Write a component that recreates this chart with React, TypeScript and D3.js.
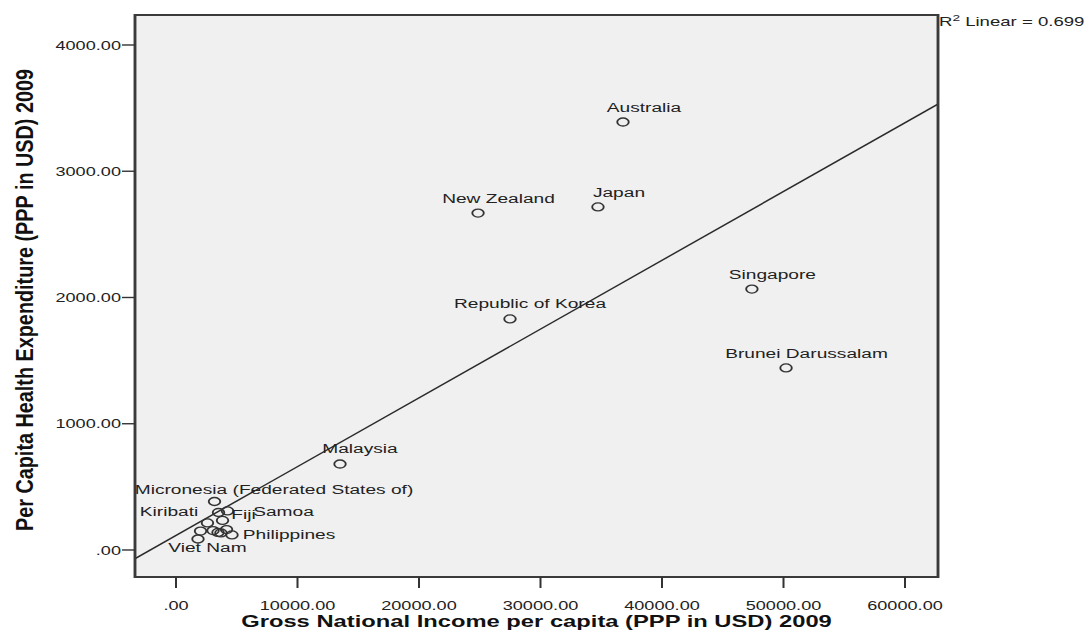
import React from "react";
import * as d3 from "d3";

// ---- data ----
const countries = [
  "Australia", "Japan", "New Zealand", "Singapore", "Republic of Korea",
  "Brunei Darussalam", "Malaysia", "Micronesia (Federated States of)", "Kiribati",
  "Samoa", "Solomon Islands", "Fiji", "Lao PDR", "Mongolia", "Vanuatu", "Tonga",
  "Philippines", "Viet Nam", "Indonesia",
];
const gniPerCapita = [
  36790, 34730, 24860, 47400, 27490, 50210, 13500, 3170, 3500, 4240, 2590,
  3830, 2020, 3050, 3460, 4160, 4610, 1810, 3700,
];
const healthExpPerCapita = [
  3390, 2717, 2669, 2067, 1830, 1442, 681, 384, 297, 309, 214, 234, 150, 154,
  139, 162, 119, 87, 135,
];
const xTicks = [0, 10000, 20000, 30000, 40000, 50000, 60000];
const yTicks = [0, 1000, 2000, 3000, 4000];
const xTitle = "Gross National Income per capita (PPP in USD) 2009";
const yTitle = "Per Capita Health Expenditure (PPP in USD) 2009";
const r2Text = " Linear = 0.699";

// label placement offsets (px, relative to each point); only labelled points
const labelOffsets: Record<string, [number, number]> = {
  "Australia": [21, -10],
  "Japan": [21, -10],
  "New Zealand": [20.5, -10.5],
  "Singapore": [20.5, -10.5],
  "Republic of Korea": [20, -11],
  "Brunei Darussalam": [20.5, -9.5],
  "Malaysia": [20, -11],
  "Micronesia (Federated States of)": [59.5, -7.5],
  "Kiribati": [-49.5, 3.5],
  "Samoa": [56, 4.7],
  "Fiji": [21, -1.2],
  "Philippines": [57, 4.3],
  "Viet Nam": [9.5, 12.7],
};

// ---- layout (the reference is horizontally stretched) ----
const W = 1088;
const H = 635;
const K = 1.44; // horizontal stretch
const VW = W / K;
const frame = { left: 135, right: 938, top: 15, bottom: 577 };
const FONT = "'Liberation Sans', Arial, sans-serif";
const INK = "#222";

export default function App() {
  const x = d3.scaleLinear().domain([-3374, 62716]).range([frame.left / K, frame.right / K]);
  const y = d3.scaleLinear().domain([-214, 4237.6]).range([frame.bottom, frame.top]);

  // least squares fit
  const mx = d3.mean(gniPerCapita) as number;
  const my = d3.mean(healthExpPerCapita) as number;
  let sxy = 0, sxx = 0;
  gniPerCapita.forEach((g, i) => {
    sxy += (g - mx) * (healthExpPerCapita[i] - my);
    sxx += (g - mx) * (g - mx);
  });
  const slope = sxy / sxx;
  const intercept = my - slope * mx;
  const [x0, x1] = x.domain();
  const line = d3.line<number>().x((d) => x(d)).y((d) => y(intercept + slope * d));

  const fmt = (v: number) => (v === 0 ? ".00" : d3.format(".2f")(v));

  return (
    <svg
      width={W}
      height={H}
      viewBox={`0 0 ${VW} ${H}`}
      preserveAspectRatio="none"
      style={{ position: "absolute", left: 0, top: 0, background: "#fff" }}
    >
      <defs>
        <clipPath id="plotclip">
          <rect x={frame.left / K} y={frame.top} width={(frame.right - frame.left) / K} height={frame.bottom - frame.top} />
        </clipPath>
      </defs>
      <rect
        x={frame.left / K}
        y={frame.top}
        width={(frame.right - frame.left) / K}
        height={frame.bottom - frame.top}
        fill="#f0f0f0"
      />
      {/* regression line */}
      <path d={line([x0, x1]) || ""} fill="none" stroke="#2a2a2a" strokeWidth={1.3} clipPath="url(#plotclip)" />

      {/* points */}
      {gniPerCapita.map((g, i) => (
        <circle key={i} cx={x(g)} cy={y(healthExpPerCapita[i])} r={4} fill="none" stroke="#333" strokeWidth={1.3} />
      ))}

      {/* labels */}
      {countries.map((c, i) => {
        const off = labelOffsets[c];
        if (!off) return null;
        return (
          <text
            key={c}
            x={x(gniPerCapita[i]) + off[0] / K}
            y={y(healthExpPerCapita[i]) + off[1]}
            textAnchor="middle"
            fontFamily={FONT}
            fontSize={13.3}
            fill={INK}
          >
            {c}
          </text>
        );
      })}

      {/* frame */}
      <rect
        x={frame.left / K}
        y={frame.top}
        width={(frame.right - frame.left) / K}
        height={frame.bottom - frame.top}
        fill="none"
        stroke="#3a3a3a"
        strokeWidth={2}
      />

      {/* y axis ticks */}
      {yTicks.map((t) => (
        <g key={"y" + t}>
          <line x1={122 / K} x2={frame.left / K} y1={y(t)} y2={y(t)} stroke="#333" strokeWidth={1.4} />
          <text x={121 / K} y={y(t)} dy="0.36em" textAnchor="end" fontFamily={FONT} fontSize={12.6} fill={INK}>
            {fmt(t)}
          </text>
        </g>
      ))}

      {/* x axis ticks */}
      {xTicks.map((t) => (
        <g key={"x" + t}>
          <line x1={x(t)} x2={x(t)} y1={frame.bottom} y2={frame.bottom + 11} stroke="#333" strokeWidth={1.4} />
          <text x={x(t)} y={610.5} textAnchor="middle" fontFamily={FONT} fontSize={12.6} fill={INK}>
            {fmt(t)}
          </text>
        </g>
      ))}

      {/* axis titles */}
      <text
        x={(frame.left + frame.right) / 2 / K}
        y={627}
        textAnchor="middle"
        fontFamily={FONT}
        fontWeight="bold"
        fontSize={16.5}
        fill="#111"
      >
        {xTitle}
      </text>
      <text
        transform={`translate(${27 / K},${(frame.top + frame.bottom) / 2 + 4}) rotate(-90)`}
        textAnchor="middle"
        dominantBaseline="middle"
        fontFamily={FONT}
        fontWeight="bold"
        fontSize={17}
        textLength={462}
        lengthAdjust="spacingAndGlyphs"
        fill="#111"
      >
        {yTitle}
      </text>

      {/* R² annotation */}
      <text x={939 / K} y={26} fontFamily={FONT} fontSize={12.9} fill={INK}>
        R<tspan fontSize={9.5} dy={-5}>2</tspan>
        <tspan dy={5}>{r2Text}</tspan>
      </text>
    </svg>
  );
}
